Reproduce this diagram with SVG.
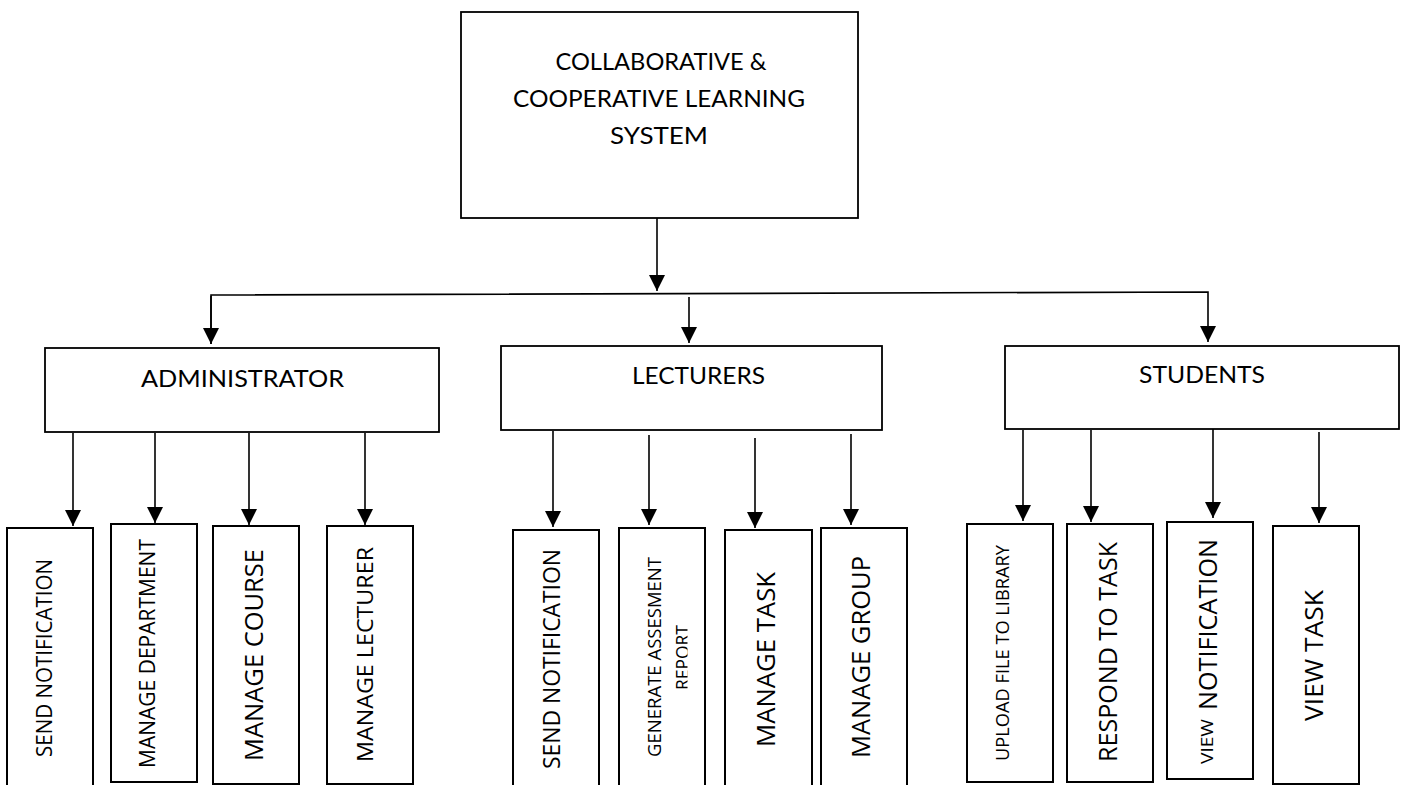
<svg xmlns="http://www.w3.org/2000/svg" width="1405" height="785" viewBox="0 0 1405 785">
<defs>
<style>
.box{fill:#fff;stroke:#000;stroke-width:1.8}
.leaf{fill:#fff;stroke:#000;stroke-width:2}
.hd{font-family:Lato,"Liberation Sans",sans-serif;fill:#000;text-anchor:middle}
.lf{font-family:"Open Sans","DejaVu Sans",sans-serif;fill:#000}
.cn{fill:none;stroke:#000;stroke-width:1.6}
</style>
<marker id="ah" markerUnits="userSpaceOnUse" markerWidth="16" markerHeight="16" refX="15" refY="7.5" orient="auto" viewBox="0 0 15 15">
<path d="M0,0 L15,7.5 L0,15 Z" fill="#000"/>
</marker>
<clipPath id="clipL2"><rect x="619" y="528" width="68.5" height="260"/></clipPath>
</defs>

<g id="connectors">
<line class="cn" x1="657" y1="218" x2="657" y2="291" marker-end="url(#ah)"/>
<polyline class="cn" points="211,344 211,295 1208,292 1208,342" marker-end="url(#ah)"/>
<line class="cn" x1="211" y1="296" x2="211" y2="344" marker-end="url(#ah)"/>
<line class="cn" x1="689" y1="297" x2="689" y2="343" marker-end="url(#ah)"/>
<line class="cn" x1="73" y1="433" x2="73" y2="526" marker-end="url(#ah)"/>
<line class="cn" x1="155" y1="433" x2="155" y2="523" marker-end="url(#ah)"/>
<line class="cn" x1="249" y1="433" x2="249" y2="525" marker-end="url(#ah)"/>
<line class="cn" x1="365" y1="433" x2="365" y2="525" marker-end="url(#ah)"/>
<line class="cn" x1="553" y1="431" x2="553" y2="527" marker-end="url(#ah)"/>
<line class="cn" x1="649" y1="435" x2="649" y2="525" marker-end="url(#ah)"/>
<line class="cn" x1="755" y1="438" x2="755" y2="528" marker-end="url(#ah)"/>
<line class="cn" x1="851" y1="434" x2="851" y2="525" marker-end="url(#ah)"/>
<line class="cn" x1="1023" y1="430" x2="1023" y2="521" marker-end="url(#ah)"/>
<line class="cn" x1="1091" y1="430" x2="1091" y2="522" marker-end="url(#ah)"/>
<line class="cn" x1="1213" y1="426" x2="1213" y2="518" marker-end="url(#ah)"/>
<line class="cn" x1="1319" y1="432" x2="1319" y2="523" marker-end="url(#ah)"/>
</g>

<g id="system">
<rect class="box" x="461" y="12" width="397" height="206"/>
<text class="hd" font-size="24" x="661" y="70" textLength="211" lengthAdjust="spacingAndGlyphs">COLLABORATIVE &amp;</text>
<text class="hd" font-size="24" x="659" y="107" textLength="292" lengthAdjust="spacingAndGlyphs">COOPERATIVE LEARNING</text>
<text class="hd" font-size="24" x="659" y="144" textLength="98" lengthAdjust="spacingAndGlyphs">SYSTEM</text>
</g>

<g id="administrator">
<rect class="box" x="45" y="348" width="394" height="84"/>
<text class="hd" font-size="23" x="242.5" y="387" textLength="203" lengthAdjust="spacingAndGlyphs">ADMINISTRATOR</text>
</g>
<g id="lecturers">
<rect class="box" x="501" y="346" width="381" height="84"/>
<text class="hd" font-size="23" x="698.5" y="384" textLength="133" lengthAdjust="spacingAndGlyphs">LECTURERS</text>
</g>
<g id="students">
<rect class="box" x="1005" y="346" width="394" height="83"/>
<text class="hd" font-size="23" x="1202" y="383" textLength="126" lengthAdjust="spacingAndGlyphs">STUDENTS</text>
</g>

<g id="admin-send-notification">
<rect class="leaf" x="7" y="528" width="86" height="280"/>
<text class="lf" font-size="21" transform="translate(51.5,757) rotate(-90)" textLength="198" lengthAdjust="spacingAndGlyphs">SEND NOTIFICATION</text>
</g>
<g id="manage-department">
<rect class="leaf" x="111" y="524" width="86" height="258"/>
<text class="lf" font-size="21" transform="translate(155,768) rotate(-90)" textLength="229" lengthAdjust="spacingAndGlyphs">MANAGE DEPARTMENT</text>
</g>
<g id="manage-course">
<rect class="leaf" x="213" y="526" width="86" height="258"/>
<text class="lf" font-size="26" transform="translate(263,761) rotate(-90)" textLength="212" lengthAdjust="spacingAndGlyphs">MANAGE COURSE</text>
</g>
<g id="manage-lecturer">
<rect class="leaf" x="327" y="526" width="86" height="258"/>
<text class="lf" font-size="22" transform="translate(373.3,762) rotate(-90)" textLength="215" lengthAdjust="spacingAndGlyphs">MANAGE LECTURER</text>
</g>

<g id="lecturer-send-notification">
<rect class="leaf" x="513" y="530" width="86" height="280"/>
<text class="lf" font-size="23" transform="translate(560,769) rotate(-90)" textLength="220" lengthAdjust="spacingAndGlyphs">SEND NOTIFICATION</text>
</g>
<g id="generate-report">
<rect class="leaf" x="619" y="528" width="86" height="280"/>
<text class="lf" font-size="18.5" transform="translate(661,757) rotate(-90)" textLength="200" lengthAdjust="spacingAndGlyphs">GENERATE ASSESMENT</text>
<g clip-path="url(#clipL2)">
<text class="lf" font-size="17.5" transform="translate(689,690) rotate(-90)" textLength="65" lengthAdjust="spacingAndGlyphs">REPORT</text>
</g>
</g>
<g id="manage-task">
<rect class="leaf" x="725" y="530" width="87" height="280"/>
<text class="lf" font-size="25" transform="translate(775,747) rotate(-90)" textLength="175" lengthAdjust="spacingAndGlyphs">MANAGE TASK</text>
</g>
<g id="manage-group">
<rect class="leaf" x="821" y="528" width="86" height="280"/>
<text class="lf" font-size="25" transform="translate(870.3,758) rotate(-90)" textLength="202" lengthAdjust="spacingAndGlyphs">MANAGE GROUP</text>
</g>

<g id="upload-file">
<rect class="leaf" x="967" y="524" width="86" height="258"/>
<text class="lf" font-size="19" transform="translate(1009.3,761) rotate(-90)" textLength="216" lengthAdjust="spacingAndGlyphs">UPLOAD FILE TO LIBRARY</text>
</g>
<g id="respond-to-task">
<rect class="leaf" x="1067" y="524" width="86" height="258"/>
<text class="lf" font-size="25" transform="translate(1116.7,762) rotate(-90)" textLength="220" lengthAdjust="spacingAndGlyphs">RESPOND TO TASK</text>
</g>
<g id="view-notification">
<rect class="leaf" x="1167" y="522" width="86" height="257"/>
<text class="lf" font-size="17" transform="translate(1213,764) rotate(-90)" textLength="45" lengthAdjust="spacingAndGlyphs">VIEW</text>
<text class="lf" font-size="25" transform="translate(1217,710) rotate(-90)" textLength="171" lengthAdjust="spacingAndGlyphs">NOTIFICATION</text>
</g>
<g id="view-task">
<rect class="leaf" x="1273" y="526" width="86" height="258"/>
<text class="lf" font-size="25" transform="translate(1323,721) rotate(-90)" textLength="131" lengthAdjust="spacingAndGlyphs">VIEW TASK</text>
</g>
</svg>
